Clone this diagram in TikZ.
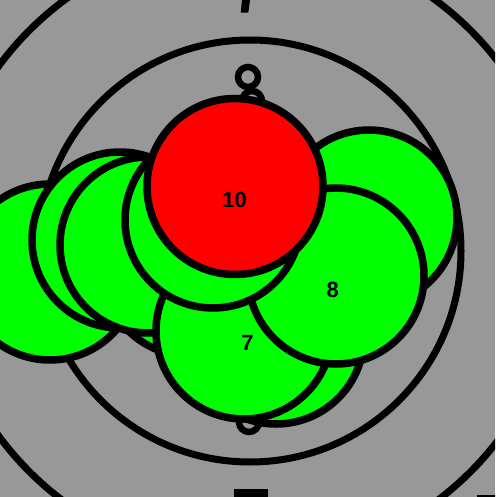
\documentclass[tikz,border=0pt]{standalone}
\usepackage{fontspec}
\setmainfont{Liberation Sans}
\definecolor{bg}{RGB}{152,152,152}
\definecolor{hitgreen}{RGB}{0,255,0}
\definecolor{hitred}{RGB}{255,0,0}
\begin{document}
\begin{tikzpicture}[x=1pt,y=-1pt,
  ring/.style={draw=black,line width=7pt},
  hole/.style={draw=black,line width=7.5pt,fill=hitgreen},
  redhole/.style={hole,fill=hitred},
  lbl/.style={font=\fontsize{22}{22}\selectfont\bfseries,inner sep=0pt,text=black}]
\useasboundingbox (0,0) rectangle (495,497);
\clip (0,0) rectangle (495,497);
\fill[bg] (0,0) rectangle (495,497);
% target rings
\draw[ring] (250,251) circle[radius=312];
\draw[ring] (250,251) circle[radius=211];
\draw[ring,line width=6.5pt] (248,77) circle[radius=10];
\draw[ring,line width=6.5pt] (252,101) circle[radius=10];
\draw[ring,line width=6.5pt] (249,422) circle[radius=10];
\fill[black] (242,0) -- (250,0) -- (248.3,12.7) -- (240.7,12.7) -- cycle;
\fill[black] (233.5,489) rectangle (268.3,497);
\filldraw[fill=white,draw=black,line width=2pt] (478,495.5) rectangle (510,510);
% hits
\draw[hole] (50,272) circle[radius=88];
\draw[hole] (120,240) circle[radius=88];
\draw[hole] (190,268) circle[radius=88];
\draw[hole] (148,245) circle[radius=88];
\draw[hole] (276,336) circle[radius=88];
\draw[hole] (244,331) circle[radius=88];
\draw[hole] (369,218) circle[radius=88];
\draw[hole] (336,276) circle[radius=88];
\draw[hole] (213,220) circle[radius=88];
\draw[redhole] (235,186.5) circle[radius=88];
% labels
\node[lbl] (l10) at (234.5,199.5) {10};
\node[lbl] (l8) at (332.7,289.7) {8};
\node[lbl] (l7) at (247.5,343) {7};
\end{tikzpicture}
\end{document}
